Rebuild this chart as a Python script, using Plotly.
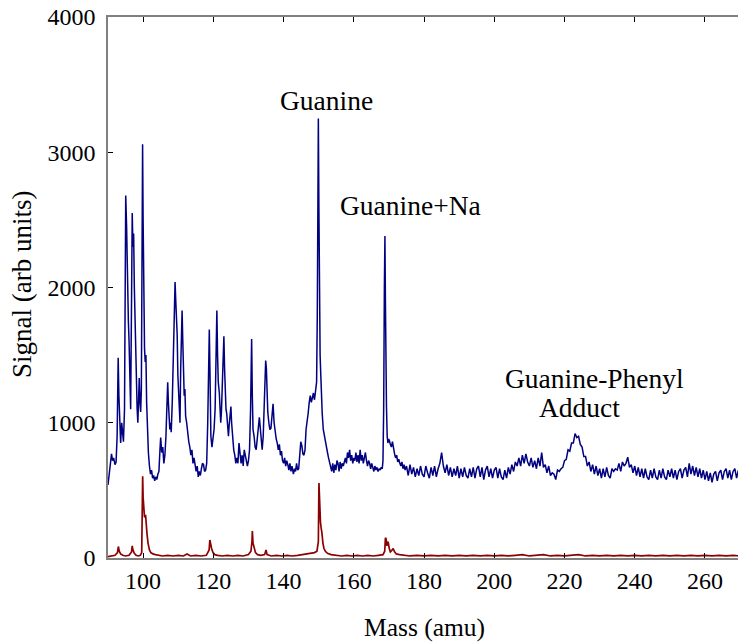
import plotly.graph_objects as go

# ---- blue spectrum (sample) ----
blue_mass = [
    90.0, 90.3, 90.6, 91.0, 91.3, 91.6, 92.0, 92.3, 92.6, 92.9, 93.1, 93.3, 93.6, 93.9, 94.1, 94.4, 94.7, 94.9,
    95.05, 95.3, 95.5, 95.8, 96.0, 96.2, 96.45, 96.7, 96.9, 97.1, 97.3, 97.5, 97.7, 97.9, 98.1, 98.3, 98.5, 98.7,
    98.9, 99.1, 99.3, 99.5, 99.7, 99.85, 100.0, 100.2, 100.4, 100.6, 100.8, 101.0, 101.2, 101.5, 101.8, 102.1,
    102.4, 102.7, 103.0, 103.3, 103.6, 103.9, 104.2, 104.5, 104.8, 105.0, 105.3, 105.6, 105.9, 106.2, 106.5,
    106.8, 107.0, 107.2, 107.4, 107.6, 107.8, 108.0, 108.3, 108.6, 108.9, 109.1, 109.3, 109.5, 109.7, 109.9,
    110.1, 110.3, 110.5, 110.7, 110.9, 111.1, 111.3, 111.5, 111.7, 111.9, 112.1, 112.4, 112.7, 113.0, 113.3,
    113.6, 113.9, 114.2, 114.5, 114.8, 115.1, 115.4, 115.7, 116.0, 116.3, 116.6, 116.9, 117.2, 117.5, 117.8,
    118.1, 118.4, 118.6, 118.85, 119.05, 119.3, 119.6, 119.9, 120.2, 120.5, 120.8, 121.0, 121.2, 121.4, 121.7,
    121.9, 122.1, 122.3, 122.6, 122.8, 123.0, 123.2, 123.4, 123.6, 123.8, 124.0, 124.3, 124.5, 124.8, 125.0,
    125.2, 125.5, 125.8, 126.1, 126.4, 126.7, 127.0, 127.3, 127.6, 127.9, 128.2, 128.5, 128.8, 129.1, 129.4,
    129.7, 130.0, 130.3, 130.6, 130.9, 131.1, 131.3, 131.6, 131.9, 132.2, 132.5, 132.8, 133.1, 133.4, 133.7,
    133.9, 134.2, 134.5, 134.7, 134.9, 135.1, 135.3, 135.5, 135.8, 136.1, 136.4, 136.7, 137.0, 137.3, 137.6,
    137.9, 138.2, 138.5, 138.8, 139.1, 139.4, 139.7, 140.0, 140.3, 140.6, 140.9, 141.2, 141.5, 141.8, 142.1,
    142.4, 142.8, 143.1, 143.4, 143.7, 144.0, 144.3, 144.6, 144.9, 145.2, 145.5, 145.8, 146.1, 146.4, 146.7,
    147.0, 147.3, 147.6, 147.9, 148.2, 148.5, 148.8, 149.1, 149.4, 149.6, 149.8, 149.9, 150.05, 150.2, 150.4,
    150.6, 150.8, 151.0, 151.3, 151.6, 151.9, 152.2, 152.5, 152.8, 153.1, 153.4, 153.7, 154.0, 154.3, 154.6,
    154.9, 155.2, 155.5, 155.8, 156.1, 156.4, 156.7, 157.0, 157.3, 157.6, 157.9, 158.2, 158.5, 158.8, 159.1,
    159.4, 159.7, 160.0, 160.3, 160.6, 160.9, 161.2, 161.5, 161.8, 162.1, 162.4, 162.7, 163.0, 163.3, 163.6,
    163.9, 164.2, 164.5, 164.8, 165.1, 165.4, 165.7, 166.0, 166.3, 166.6, 166.9, 167.2, 167.5, 167.8, 168.1,
    168.3, 168.5, 168.7, 168.86, 169.0, 169.15, 169.3, 169.5, 169.7, 169.9, 170.1, 170.4, 170.7, 171.0, 171.3,
    171.6, 171.9, 172.2, 172.5, 172.8, 173.1, 173.4, 173.7, 174.0, 174.3, 174.6,
    175.0, 175.5, 176.0, 176.5, 177.0, 177.5, 178.0, 178.5, 179.0, 179.5, 180.0, 180.5, 181.0, 181.5, 182.0,
    182.5, 183.0, 183.5, 184.0, 184.5, 185.0, 185.5, 186.0, 186.5, 187.0, 187.5, 188.0, 188.5, 189.0, 189.5,
    190.0, 190.5, 191.0, 191.5, 192.0, 192.5, 193.0, 193.5, 194.0, 194.5, 195.0, 195.5, 196.0, 196.5, 197.0,
    197.5, 198.0, 198.5, 199.0, 199.5, 200.0, 200.5, 201.0, 201.5, 202.0, 202.5, 203.0, 203.5, 204.0, 204.5,
    205.0, 205.5, 206.0, 206.5, 207.0, 207.5, 208.0, 208.5, 209.0, 209.5, 210.0, 210.5, 211.0, 211.5, 212.0,
    212.5, 213.0, 213.5, 214.0, 214.5, 215.0, 215.5, 216.0, 216.5, 217.0, 217.5, 218.0, 218.5, 219.0, 219.5,
    220.0, 220.5, 221.0, 221.5, 222.0, 222.5, 223.0, 223.5, 224.0, 224.5, 225.0, 225.5, 226.0, 226.5, 227.0,
    227.5, 228.0, 228.5, 229.0, 229.5, 230.0, 230.5, 231.0, 231.5, 232.0, 232.5, 233.0, 233.5, 234.0, 234.5,
    235.0, 235.5, 236.0, 236.5, 237.0, 237.5, 238.0, 238.5, 239.0, 239.5, 240.0, 240.5, 241.0, 241.5, 242.0,
    242.5, 243.0, 243.5, 244.0, 244.5, 245.0, 245.5, 246.0, 246.5, 247.0, 247.5, 248.0, 248.5, 249.0, 249.5,
    250.0, 250.5, 251.0, 251.5, 252.0, 252.5, 253.0, 253.5, 254.0, 254.5, 255.0, 255.5, 256.0, 256.5, 257.0,
    257.5, 258.0, 258.5, 259.0, 259.5, 260.0, 260.5, 261.0, 261.5, 262.0, 262.5, 263.0, 263.5, 264.0, 264.5,
    265.0, 265.5, 266.0, 266.5, 267.0, 267.5, 268.0, 268.5, 269.0, 269.5, 270.0,
]
blue_signal = [
    540, 600, 690, 770, 720, 740, 690, 710, 900, 1480, 1200, 1050, 850, 1000, 940, 860, 1100, 2300,
    2680, 2450, 2000, 1750, 1600, 1250, 1100, 1900, 2550, 2300, 2400, 2000, 1700, 1550, 1250, 1100, 1000, 1150,
    1330, 1150, 1080, 1250, 2400, 3060, 2500, 1700, 1550, 1450, 1500, 1150, 950, 780, 680, 620,
    650, 590, 610, 570, 600, 580, 620, 640, 800, 890, 780, 820, 700, 760, 900,
    1100, 1300, 1150, 980, 950, 1000, 930, 1150, 1500, 1900, 2040, 1900, 1800, 1650, 1350,
    1250, 1200, 1000, 1400, 1800, 1830, 1600, 1350, 1200, 1250, 1050, 1000, 900, 860, 820,
    760, 800, 700, 740, 690, 640, 680, 600, 640, 610, 660, 700, 690, 640, 650,
    700, 1000, 1400, 1690, 1350, 900, 820, 900, 950, 1100, 1600, 1830, 1500, 1300, 1220,
    1100, 1000, 1080, 1300, 1500, 1640, 1400, 1200, 1100, 1070, 960, 900, 980, 1050, 1120,
    1000, 880, 800, 760, 700, 740, 700, 850, 780, 700, 760, 680, 800, 750, 700,
    680, 720, 800, 1100, 1620, 1200, 950, 900, 820, 800, 880, 960, 1040, 950, 850,
    800, 900, 1100, 1350, 1460, 1400, 1200, 1080, 1000, 950, 960, 1080, 1140, 1000, 920,
    880, 850, 800, 840, 760, 790, 720, 700, 740, 680, 720, 690, 650, 700, 640,
    680, 620, 660, 640, 700, 650, 660, 760, 860, 830, 770, 760, 800, 950, 1000,
    1070, 1150, 1200, 1150, 1180, 1220, 1170, 1250, 1300, 1800, 2800, 3250, 2600, 1900, 1500,
    1350, 1150, 1070, 950, 900, 860, 800, 780, 740, 700, 680, 640, 700, 630, 690,
    650, 720, 700, 640, 710, 660, 700, 680, 720, 740, 700, 780, 740, 800, 720,
    760, 700, 740, 720, 780, 710, 760, 700, 800, 720, 760, 700, 730, 780, 720,
    680, 720, 700, 660, 700, 670, 640, 680, 650, 670, 640, 660, 650, 670, 660,
    720, 1100, 2000, 2380, 1900, 1300, 1120, 900, 850, 880, 870, 840, 820, 860, 800,
    770, 740, 760, 710, 730, 700, 680, 710, 660, 690, 650,
    680, 610, 690, 620, 670, 600, 660, 610, 680, 620, 600, 680, 630, 590, 670,
    610, 680, 600, 660, 700, 780, 680, 630, 690, 610, 670, 600, 660, 610, 680,
    590, 660, 600, 670, 610, 590, 660, 600, 670, 590, 660, 680, 600, 670, 580,
    650, 680, 600, 660, 590, 650, 670, 590, 660, 600, 580, 650, 590, 670, 620,
    690, 640, 710, 680, 740, 680, 760, 700, 770, 710, 680, 740, 670, 720, 660,
    740, 680, 780, 670, 690, 630, 680, 610, 630, 620, 580, 650, 640, 660, 670,
    720, 730, 800, 790, 850, 850, 920, 890, 900, 840, 820, 750, 750, 680, 710,
    640, 690, 620, 680, 610, 660, 590, 660, 600, 670, 610, 590, 660, 640, 660,
    650, 700, 640, 710, 680, 700, 745, 670, 690, 630, 680, 610, 670, 600, 660,
    590, 660, 600, 580, 650, 590, 660, 600, 580, 650, 590, 660, 600, 580, 650,
    600, 660, 590, 650, 580, 640, 660, 590, 650, 670, 600, 700, 620, 680, 610,
    670, 600, 660, 590, 650, 580, 640, 570, 630, 560, 620, 640, 570, 630, 650,
    580, 640, 660, 590, 650, 580, 640, 660, 590, 650, 600,
]

# ---- red spectrum (reference) ----
red_mass = [
    90.0, 91.0, 92.0, 92.7, 92.95, 93.2, 93.6, 94.2, 95.0, 96.0, 96.7, 96.9, 97.1, 97.5, 98.0, 98.6, 99.2,
    99.6, 99.8, 99.87, 100.0, 100.1, 100.4, 100.7, 100.9, 101.1, 101.4, 101.8, 102.2, 102.8, 103.5, 104.5,
    105.5, 107.0, 108.5, 110.0, 111.5, 112.5, 113.5, 115.0, 116.5, 118.0, 118.8, 119.0, 119.2, 119.5, 119.9,
    120.4, 121.2, 122.5, 124.0, 125.5, 127.0, 128.5, 130.0, 130.7, 131.0, 131.1, 131.3, 131.6, 132.0, 132.6,
    133.5, 134.6, 135.0, 135.3, 136.5, 138.0, 139.5, 141.0, 142.5, 144.0, 145.5, 147.0, 148.0, 148.8, 149.5,
    149.9, 150.07, 150.3, 150.5, 150.7, 150.9, 151.2, 151.5, 151.9, 152.5, 153.5, 155.0, 156.5, 158.0, 159.5,
    161.0, 162.5, 164.0, 165.5, 167.0, 168.3, 168.8, 169.0, 169.2, 169.4, 169.6, 169.8, 170.1, 170.4, 170.8,
    171.2, 171.6, 172.1, 173.0, 174.5, 176.0, 178.0, 180.0, 182.0, 184.0, 186.0, 188.0, 190.0, 192.0, 194.0,
    196.0, 198.0, 200.0, 202.0, 204.0, 206.0, 208.0, 210.0, 212.0, 214.0, 216.0, 218.0, 220.0, 222.0, 224.0,
    226.0, 228.0, 230.0, 232.0, 234.0, 236.0, 238.0, 240.0, 242.0, 244.0, 246.0, 248.0, 250.0, 252.0, 254.0,
    256.0, 258.0, 260.0, 262.0, 264.0, 266.0, 268.0, 270.0,
]
red_signal = [
    10, 15, 20, 40, 85, 50, 30, 20, 15, 20, 45, 90, 60, 35, 20, 15, 20,
    40, 300, 605, 450, 370, 300, 320, 230, 180, 110, 60, 40, 30, 25, 20,
    15, 20, 15, 20, 15, 30, 15, 20, 15, 20, 60, 133, 100, 70, 40,
    25, 20, 15, 20, 15, 20, 15, 25, 50, 120, 200, 110, 70, 40, 25,
    20, 25, 60, 25, 15, 20, 15, 20, 15, 20, 25, 30, 35, 40, 50,
    120, 555, 350, 266, 220, 190, 110, 70, 50, 35, 25, 20, 15, 20, 15,
    20, 15, 20, 15, 20, 25, 50, 150, 140, 90, 120, 115, 70, 45, 55,
    70, 45, 30, 25, 20, 15, 20, 15, 20, 15, 20, 15, 20, 15, 20,
    15, 20, 15, 20, 15, 20, 25, 15, 20, 25, 15, 20, 15, 20, 25,
    15, 20, 15, 20, 15, 20, 15, 20, 15, 20, 15, 20, 15, 20, 15,
    20, 15, 20, 15, 20, 15, 20, 15,
]

assert len(blue_mass) == len(blue_signal)
assert len(red_mass) == len(red_signal)

# ---- labels ----
peak_labels = ["Guanine", "Guanine+Na", "Guanine-Phenyl", "Adduct"]
label_mass = [152.3, 176.0, 228.6, 224.4]
label_signal = [3380, 2610, 1330, 1110]

x_ticks = [100, 120, 140, 160, 180, 200, 220, 240, 260]
y_ticks = [0, 1000, 2000, 3000, 4000]

FONT = "Liberation Serif, Times New Roman, serif"

fig = go.Figure()
fig.add_trace(go.Scatter(x=blue_mass, y=blue_signal, mode="lines",
                         line=dict(color="#000080", width=1.5), showlegend=False))
fig.add_trace(go.Scatter(x=red_mass, y=red_signal, mode="lines",
                         line=dict(color="#8b0000", width=1.7), showlegend=False))

for txt, xm, ys in zip(peak_labels, label_mass, label_signal):
    fig.add_annotation(x=xm, y=ys, text=txt, showarrow=False,
                       font=dict(family=FONT, size=27.5, color="black"),
                       xanchor="center", yanchor="middle")

# axis titles
fig.add_annotation(xref="paper", yref="paper", x=0.5016, y=-0.129, text="Mass (amu)",
                   showarrow=False, font=dict(family=FONT, size=25.5, color="black"),
                   xanchor="center", yanchor="middle")
fig.add_annotation(xref="paper", yref="paper", x=-0.1365, y=0.5046, text="Signal (arb units)",
                   showarrow=False, textangle=-90, font=dict(family=FONT, size=27, color="black"),
                   xanchor="center", yanchor="middle")

fig.update_layout(
    width=738, height=642,
    margin=dict(l=108, r=0, t=17, b=84),
    paper_bgcolor="white", plot_bgcolor="white",
    font=dict(family=FONT, size=24, color="black"),
    xaxis=dict(range=[90, 269.4], tickvals=x_ticks, ticks="inside", ticklen=5,
               tickcolor="black", showline=True, linecolor="#808080", linewidth=1.5,
               mirror="ticks", showgrid=False, zeroline=False, automargin=False,
               tickfont=dict(size=24)),
    yaxis=dict(range=[0, 4000], tickvals=y_ticks, ticks="inside", ticklen=5,
               tickcolor="black", showline=True, linecolor="#808080", linewidth=1.5,
               showgrid=False, zeroline=False, automargin=False, ticklabelstandoff=6,
               tickfont=dict(size=24)),
)

fig.write_html(
    "out.html",
    config={"displayModeBar": False},
    post_script="document.body.style.margin='0';document.body.style.overflow='hidden';",
)
